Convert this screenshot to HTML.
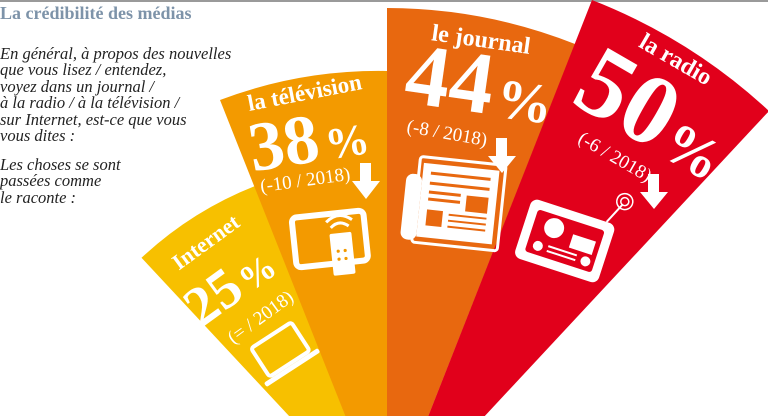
<!DOCTYPE html>
<html><head><meta charset="utf-8"><style>
html,body{margin:0;padding:0;background:#fff;width:768px;height:416px;overflow:hidden;}
body{position:relative;font-family:"Liberation Serif",serif;}
.t{position:absolute;left:0;top:3px;font-weight:bold;font-size:18px;color:#7d93a9;white-space:nowrap;}
.q{position:absolute;left:0;font-style:italic;font-size:16.5px;line-height:16.4px;color:#222;white-space:nowrap;}
</style></head><body>
<div style="position:absolute;left:0;top:0;width:768px;height:2px;background:#9a9a9a"></div>
<div class="t">La crédibilité des médias</div>
<div class="q" style="top:46px">En général, à propos des nouvelles<br>que vous lisez / entendez,<br>voyez dans un journal /<br>à la radio / à la télévision /<br>sur Internet, est-ce que vous<br>vous dites :</div>
<div class="q" style="top:157px">Les choses se sont<br>passées comme<br>le raconte :</div>
<svg width="768" height="416" style="position:absolute;left:0;top:0" font-family="Liberation Serif, serif" fill="#fff">
<path d="M387,521 L141.5,257.8 A360,360 0 0 1 255,186 Z" fill="#f7c000"/>
<path d="M387,521 L220,100 A450,450 0 0 1 387,71 Z" fill="#f39a00"/>
<path d="M387,521 L387,8 A513,513 0 0 1 575,44 Z" fill="#e8680f"/>
<path d="M387,521 L592,0 A560,560 0 0 1 769,111 Z" fill="#e1001b"/>

<!-- Internet -->
<g transform="translate(210,248) rotate(-36)"><text x="0" y="0" font-size="22" font-weight="bold" text-anchor="middle">Internet</text></g>
<g transform="translate(240,300) rotate(-36)"><text x="0" y="0" font-size="56" font-weight="bold" text-anchor="middle">25<tspan font-size="36" dx="4">%</tspan></text></g>
<g transform="translate(264,322) rotate(-36)"><text x="0" y="0" font-size="19" text-anchor="middle">(= / 2018)</text></g>
<g transform="translate(282,352) rotate(-33)"><rect x="-24" y="-20" width="48" height="34" rx="3" fill="none" stroke="#fff" stroke-width="4"/><rect x="-32" y="16" width="64" height="5" rx="2"/></g>

<!-- TV -->
<g transform="translate(306,100) rotate(-11)"><text x="0" y="0" font-size="23" font-weight="bold" text-anchor="middle">la télévision</text></g>
<g transform="translate(312,162) rotate(-9)"><text x="0" y="0" font-size="70" font-weight="bold" text-anchor="middle">38<tspan font-size="44" dx="6">%</tspan></text></g>
<g transform="translate(306,186) rotate(-8)"><text x="0" y="0" font-size="19" text-anchor="middle">(-10 / 2018)</text></g>
<path d="M360,163 h11 v18 h9 l-14,18 l-14,-18 h8 z"/>
<g transform="translate(330,240) rotate(-6)"><rect x="-36" y="-26" width="72" height="50" rx="5" fill="none" stroke="#fff" stroke-width="6"/><rect x="0" y="-6" width="22" height="42" rx="2"/><circle cx="7" cy="12" r="1.6" fill="#f39a00"/><circle cx="14" cy="12" r="1.6" fill="#f39a00"/><circle cx="7" cy="20" r="1.6" fill="#f39a00"/><circle cx="14" cy="20" r="1.6" fill="#f39a00"/><path d="M2,-12 q9,-8 18,0 M-2,-18 q13,-11 26,0" fill="none" stroke="#fff" stroke-width="3"/></g>

<!-- Journal -->
<g transform="translate(480,47) rotate(8)"><text x="0" y="0" font-size="24" font-weight="bold" text-anchor="middle">le journal</text></g>
<g transform="translate(446,108) rotate(8)"><text x="0" y="0" font-size="88" font-weight="bold" text-anchor="middle">44</text></g>
<g transform="translate(522,120) rotate(8)"><text x="0" y="0" font-size="56" font-weight="bold" text-anchor="middle">%</text></g>
<g transform="translate(446,139) rotate(10)"><text x="0" y="0" font-size="19" text-anchor="middle">(-8 / 2018)</text></g>
<path d="M496,138 h11 v18 h9 l-14,17 l-14,-17 h8 z"/>
<g transform="translate(452,202) rotate(6)"><rect x="-36" y="-42" width="86" height="86" rx="3" fill="none" stroke="#fff" stroke-width="3"/><rect x="-48" y="-24" width="16" height="66" rx="7"/><rect x="-32" y="-36" width="76" height="74"/><g fill="#e8680f"><rect x="-24" y="-28" width="60" height="3"/><rect x="-24" y="-18" width="60" height="3"/><rect x="-24" y="-9" width="32" height="3"/><rect x="-24" y="-2" width="32" height="3"/><rect x="14" y="-8" width="22" height="16"/><rect x="-24" y="10" width="16" height="16"/><rect x="-2" y="12" width="38" height="2"/><rect x="-2" y="18" width="38" height="2"/><rect x="-2" y="24" width="38" height="2"/></g></g>

<!-- Radio -->
<g transform="translate(672,66) rotate(30)"><text x="0" y="0" font-size="24" font-weight="bold" text-anchor="middle">la radio</text></g>
<g transform="translate(612,126) rotate(30)"><text x="0" y="0" font-size="100" font-weight="bold" text-anchor="middle">50</text></g>
<g transform="translate(683,168) rotate(30)"><text x="0" y="0" font-size="58" font-weight="bold" text-anchor="middle">%</text></g>
<g transform="translate(612,162) rotate(30)"><text x="0" y="0" font-size="19" text-anchor="middle">(-6 / 2018)</text></g>
<path d="M648,174 h11 v18 h9 l-14,17 l-14,-17 h8 z"/>
<g transform="translate(565,240) rotate(18)"><rect x="-44" y="-30" width="88" height="62" rx="7"/><rect x="-35" y="-21" width="70" height="44" rx="3" fill="#e1001b"/><circle cx="-14" cy="-8" r="10" fill="#fff"/><rect x="6" y="-8" width="24" height="14" fill="#fff"/><circle cx="-24" cy="14" r="5" fill="#fff"/><circle cx="26" cy="14" r="5" fill="#fff"/><rect x="-14" y="10" width="30" height="2" fill="#fff"/><rect x="-14" y="15" width="30" height="2" fill="#fff"/><line x1="34" y1="-30" x2="44" y2="-52" stroke="#fff" stroke-width="2"/><circle cx="45" cy="-55" r="8" fill="none" stroke="#fff" stroke-width="1.5"/><circle cx="45" cy="-55" r="4" fill="none" stroke="#fff" stroke-width="1.5"/></g>
</svg>
</body></html>
